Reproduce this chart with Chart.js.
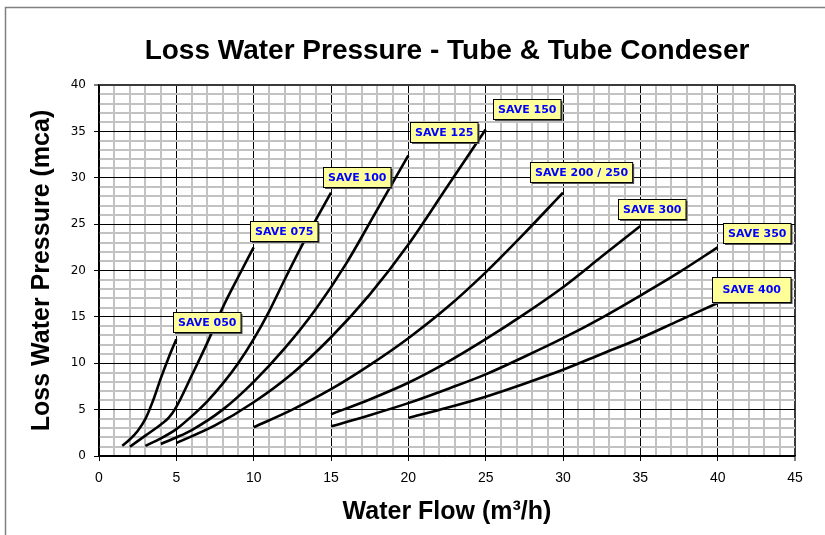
<!DOCTYPE html>
<html>
<head>
<meta charset="utf-8">
<script src="https://cdn.jsdelivr.net/npm/chart.js@4.4.1/dist/chart.umd.min.js"></script>
<style>
  html, body { margin: 0; padding: 0; background: #fff; }
  #wrap { width: 825px; height: 535px; position: relative; }
</style>
</head>
<body>
<div id="wrap"><canvas id="lossChart"></canvas></div>
<script>
// series
const seriesNames = ["SAVE 050", "SAVE 075", "SAVE 100", "SAVE 125", "SAVE 150",
  "SAVE 200 / 250", "SAVE 300", "SAVE 350", "SAVE 400"];

const flow050 = [1.5, 2, 2.5, 3, 3.5, 4, 4.5, 5];
const loss050 = [1.1, 1.8, 2.7, 4.0, 6.0, 8.4, 10.6, 12.6];

const flow075 = [2, 3, 4, 4.5, 5, 6, 7, 8, 9, 10];
const loss075 = [1.0, 2.2, 3.4, 4.1, 5.3, 8.7, 12.2, 16.0, 19.3, 22.5];

const flow100 = [3, 4, 5, 6, 7, 8, 9, 10, 11, 12, 13, 14, 15];
const loss100 = [1.1, 1.9, 2.9, 4.3, 5.9, 7.8, 10.0, 12.6, 15.6, 19.0, 22.3, 25.4, 28.4];

const flow125 = [4, 5, 6, 8, 10, 12, 14, 16, 18, 20];
const loss125 = [1.3, 2.0, 2.8, 5.0, 8.0, 11.6, 15.8, 20.8, 26.6, 32.4];

const flow150 = [5, 7.5, 10, 12.5, 15, 17.5, 20, 22.5, 25];
const loss150 = [1.4, 3.3, 5.8, 8.9, 12.8, 17.4, 22.8, 29.0, 35.2];

const flow200 = [10, 12.5, 15, 17.5, 20, 22.5, 25, 27.5, 30];
const loss200 = [3.1, 5.0, 7.2, 9.8, 12.7, 16.0, 19.8, 24.0, 28.4];

const flow300 = [15, 17.5, 20, 22.5, 25, 27.5, 30, 32.5, 35];
const loss300 = [4.5, 6.1, 7.9, 10.1, 12.6, 15.3, 18.2, 21.5, 24.8];

const flow350 = [15, 17.5, 20, 22.5, 25, 27.5, 30, 32.5, 35, 37.5, 40];
const loss350 = [3.2, 4.4, 5.7, 7.2, 8.8, 10.7, 12.7, 14.9, 17.3, 19.8, 22.5];

const flow400 = [20, 22.5, 25, 27.5, 30, 32.5, 35, 37.5, 40];
const loss400 = [4.1, 5.2, 6.4, 7.8, 9.3, 11.0, 12.7, 14.6, 16.5];

const xTicksMax = 45;
const yTicksMax = 40;

const allFlows = [flow050, flow075, flow100, flow125, flow150, flow200, flow300, flow350, flow400];
const allLosses = [loss050, loss075, loss100, loss125, loss150, loss200, loss300, loss350, loss400];

// label box placement, pixels from the last point of each curve
const labelOffsets = [[30, -17], [30, -16], [26, -16], [35, -23], [41, -21],
  [18, -21], [11, -17], [39, -14], [34, -13]];
const labelPadX = [4.5, 4.5, 4.5, 4.5, 4.5, 4.5, 4.5, 4.5, 10];
const labelHeight = [20, 20, 20, 20, 20, 20, 20, 20, 25];

const datasets = seriesNames.map((name, i) => ({
  label: name,
  data: allFlows[i].map((f, j) => ({ x: f, y: allLosses[i][j] })),
  borderColor: "#000",
  borderWidth: 2.6,
  pointRadius: 0,
  fill: false,
  cubicInterpolationMode: "monotone",
}));

function gridColor(ctx, max) {
  const v = ctx.tick ? ctx.tick.value : 0;
  if (v === max) return "#3a3a3a";
  return v % 5 === 0 ? "#000" : "#c2c2c2";
}
function gridWidth(ctx, max) {
  const v = ctx.tick ? ctx.tick.value : 0;
  if (v === max) return 2;
  return v % 5 === 0 ? 1 : 2;
}

const frameAndTitle = {
  id: "frameAndTitle",
  beforeDraw(chart) {
    const c = chart.ctx;
    c.save();
    c.fillStyle = "#fff";
    c.fillRect(0, 0, chart.width, chart.height);
    c.strokeStyle = "#808080";
    c.lineWidth = 1.5;
    c.strokeRect(5.5, 7.5, chart.width + 20, chart.height + 20);
    c.restore();
  },
  afterDraw(chart) {
    const c = chart.ctx;
    const a = chart.chartArea;
    c.save();
    c.fillStyle = "#000";
    c.font = "bold 28px 'Liberation Sans', Arial, sans-serif";
    c.textAlign = "center";
    c.textBaseline = "middle";
    c.fillText("Loss Water Pressure - Tube & Tube Condeser", (a.left + a.right) / 2, 51);
    c.restore();
  },
};

const saveLabels = {
  id: "saveLabels",
  afterDatasetsDraw(chart) {
    const c = chart.ctx;
    c.save();
    c.font = "bold 11px 'DejaVu Sans', sans-serif";
    c.textAlign = "center";
    c.textBaseline = "middle";
    chart.data.datasets.forEach((ds, i) => {
      const pts = chart.getDatasetMeta(i).data;
      const last = pts[pts.length - 1];
      const cx = last.x + labelOffsets[i][0];
      const cy = last.y + labelOffsets[i][1];
      const w = c.measureText(ds.label).width + labelPadX[i] * 2;
      const h = labelHeight[i];
      const x0 = Math.round(cx - w / 2) + 0.5;
      const y0 = Math.round(cy - h / 2) + 0.5;
      c.fillStyle = "#555";
      c.fillRect(x0 + 1.5, y0 + 1.5, w, h);
      c.fillStyle = "#ffff99";
      c.fillRect(x0, y0, w, h);
      c.strokeStyle = "#000";
      c.lineWidth = 1;
      c.strokeRect(x0, y0, w, h);
      c.fillStyle = "#0000ff";
      c.fillText(ds.label, x0 + w / 2, y0 + h / 2 + 0.5);
    });
    c.restore();
  },
};

new Chart(document.getElementById("lossChart"), {
  type: "line",
  data: { datasets: datasets },
  options: {
    responsive: true,
    maintainAspectRatio: false,
    animation: false,
    devicePixelRatio: 1,
    layout: { padding: { left: 0, right: 30, top: 85, bottom: 0 } },
    plugins: {
      legend: { display: false },
      title: { display: false },
      tooltip: { enabled: false },
    },
    scales: {
      x: {
        type: "linear",
        min: 0,
        max: xTicksMax,
        afterFit: (s) => { s.height = 79; },
        ticks: {
          stepSize: 1,
          autoSkip: false,
          maxRotation: 0,
          padding: 9,
          color: "#000",
          font: { family: "'Liberation Sans', Arial, sans-serif", size: 14 },
          callback: (v) => (v % 5 === 0 ? v : ""),
        },
        grid: {
          color: (ctx) => gridColor(ctx, xTicksMax),
          lineWidth: (ctx) => gridWidth(ctx, xTicksMax),
          tickColor: (ctx) => (ctx.tick && ctx.tick.value % 5 === 0 ? "#000" : "rgba(0,0,0,0)"),
          tickLength: 5,
          tickWidth: 1,
        },
        border: { color: "#000", width: 1.5 },
        title: {
          display: true,
          text: "Water Flow (m³/h)",
          color: "#000",
          font: { family: "'Liberation Sans', Arial, sans-serif", size: 25, weight: "bold" },
          padding: { top: 0, bottom: 8 },
        },
      },
      y: {
        type: "linear",
        min: 0,
        max: yTicksMax,
        afterFit: (s) => { s.width = 99; },
        ticks: {
          stepSize: 1,
          autoSkip: false,
          padding: 8,
          color: "#000",
          font: { family: "'DejaVu Sans', sans-serif", size: 12 },
          callback: (v) => (v % 5 === 0 ? v : ""),
        },
        grid: {
          color: (ctx) => gridColor(ctx, yTicksMax),
          lineWidth: (ctx) => gridWidth(ctx, yTicksMax),
          tickColor: (ctx) => (ctx.tick && ctx.tick.value % 5 === 0 ? "#000" : "rgba(0,0,0,0)"),
          tickLength: 5,
          tickWidth: 1,
        },
        border: { color: "#000", width: 1.5 },
        title: {
          display: true,
          text: "Loss Water Pressure (mca)",
          color: "#000",
          font: { family: "'Liberation Sans', Arial, sans-serif", size: 25, weight: "bold" },
          padding: { top: 27, bottom: 0 },
        },
      },
    },
  },
  plugins: [frameAndTitle, saveLabels],
});
</script>
</body>
</html>
